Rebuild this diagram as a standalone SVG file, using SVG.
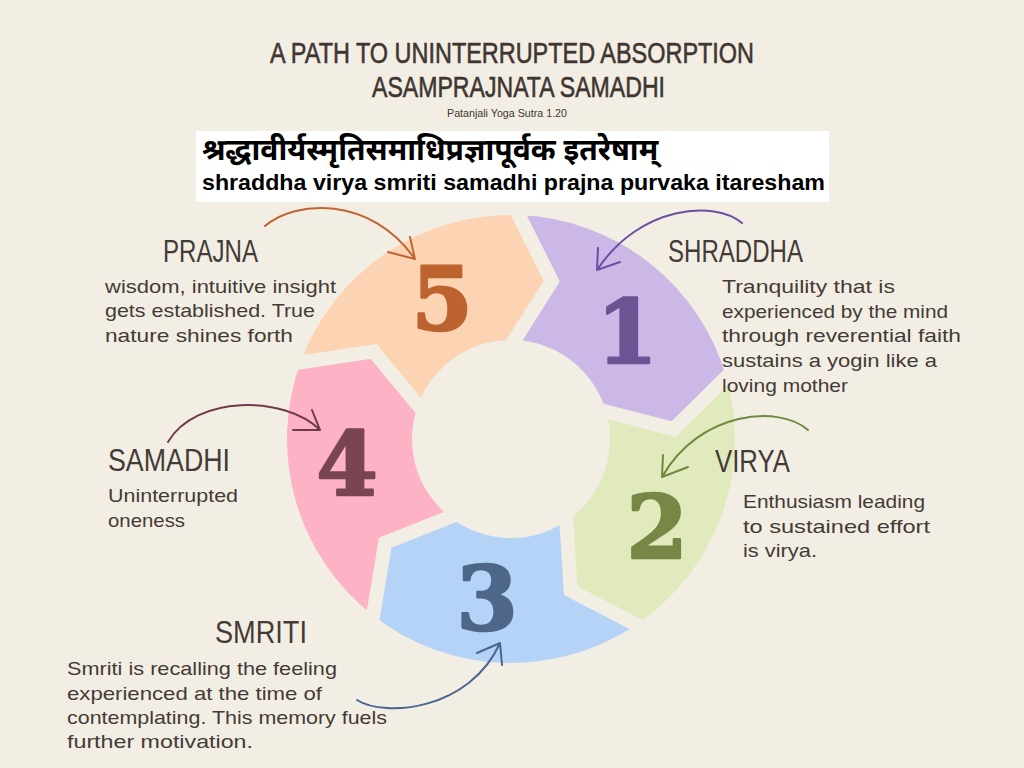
<svg xmlns="http://www.w3.org/2000/svg" width="1024" height="768" viewBox="0 0 1024 768">
<style>
.title{font-family:"Liberation Sans","DejaVu Sans",sans-serif;font-size:30px;fill:#3f3632;stroke:#3f3632;stroke-width:0.6;}
.sub{font-family:"Liberation Sans",sans-serif;font-size:11px;fill:#3f3632;}
.dev{font-family:"Noto Sans Devanagari","Noto Sans","DejaVu Sans",sans-serif;font-size:30px;font-weight:bold;fill:#000;}
.tr{font-family:"Liberation Sans",Arial,sans-serif;font-size:22px;font-weight:bold;fill:#000;}
.head{font-family:"Liberation Sans",sans-serif;font-size:32px;fill:#433b37;}
.body{font-family:"Liberation Sans",sans-serif;font-size:19px;fill:#433b37;}
.num{font-family:"DejaVu Serif","Liberation Serif",serif;font-weight:bold;font-size:88px;text-anchor:middle;stroke-width:2.5;stroke-linejoin:round;}
.arrow{fill:none;stroke-width:2;stroke-linecap:round;stroke-linejoin:round;}
</style>
<defs>
<mask id="gaps" maskUnits="userSpaceOnUse" x="0" y="0" width="1024" height="768">
<rect x="0" y="0" width="1024" height="768" fill="#fff"/>
<g fill="none" stroke="#000" stroke-width="14" stroke-linejoin="miter">
<polyline points="505.6,188.7 551.8,281.2 492.1,375.4"/>
<polyline points="747.3,356.6 673.7,429.1 565.7,401.3"/>
<polyline points="662.5,638.3 570.7,590.7 563.8,479.3"/>
<polyline points="368.3,644.6 385.2,542.7 488.9,501.6"/>
<polyline points="271.3,366.8 373.5,351.4 444.7,437.3"/>
</g>
</mask>
</defs>
<rect x="0" y="0" width="1024" height="768" fill="#F3EEE4"/>

<g id="title">
<text class="title" x="270" y="63" textLength="484" lengthAdjust="spacingAndGlyphs">A PATH TO UNINTERRUPTED ABSORPTION</text>
<text class="title" x="372" y="97" textLength="293" lengthAdjust="spacingAndGlyphs">ASAMPRAJNATA SAMADHI</text>
<text class="sub" x="447" y="117" textLength="120" lengthAdjust="spacingAndGlyphs">Patanjali Yoga Sutra 1.20</text>
</g>

<g id="sutra">
<rect x="196" y="131" width="633" height="71" fill="#ffffff"/>
<text class="dev" x="202" y="160">श्रद्धावीर्यस्मृतिसमाधिप्रज्ञापूर्वक इतरेषाम्</text>
<text class="tr" x="202" y="190" textLength="623" lengthAdjust="spacingAndGlyphs">shraddha virya smriti samadhi prajna purvaka itaresham</text>
</g>

<g id="step1-shraddha">
<path mask="url(#gaps)" fill="#CBB8E6" d="M518.8,215.1 A224,224 0 0 1 726.3,377.3 L673.7,429.1 L606.2,411.7 A99,99 0 0 0 514.5,340.1 L551.8,281.2 Z"/>
<text class="num" x="627" y="363" fill="#6B5494" stroke="#6B5494">1</text>
</g>
<g id="step2-virya">
<path mask="url(#gaps)" fill="#E1EABD" d="M726.3,377.3 A224,224 0 0 1 636.3,624.7 L570.7,590.7 L566.4,521.1 A99,99 0 0 0 606.2,411.7 L673.7,429.1 Z"/>
<text class="num" x="657" y="558" fill="#778745" stroke="#778745">2</text>
</g>
<g id="step3-smriti">
<path mask="url(#gaps)" fill="#B5D2F7" d="M636.3,624.7 A224,224 0 0 1 373.1,615.5 L385.2,542.7 L450,517 A99,99 0 0 0 566.4,521.1 L570.7,590.7 Z"/>
<text class="num" x="487" y="630" fill="#4E6689" stroke="#4E6689">3</text>
</g>
<g id="step4-samadhi">
<path mask="url(#gaps)" fill="#FDB2C5" d="M373.1,615.5 A224,224 0 0 1 300.5,362.4 L373.5,351.4 L418,405.1 A99,99 0 0 0 450,517 L385.2,542.7 Z"/>
<text class="num" x="347" y="495" fill="#7A4553" stroke="#7A4553">4</text>
</g>
<g id="step5-prajna">
<path mask="url(#gaps)" fill="#FDD4B3" d="M300.5,362.4 A224,224 0 0 1 518.8,215.1 L551.8,281.2 L514.5,340.1 A99,99 0 0 0 418,405.1 L373.5,351.4 Z"/>
<text class="num" x="442" y="330" fill="#BD6330" stroke="#BD6330">5</text>
</g>

<g id="label-prajna">
<text class="head" x="163" y="262" textLength="95" lengthAdjust="spacingAndGlyphs">PRAJNA</text>
<text class="body" x="105" y="293" textLength="231" lengthAdjust="spacingAndGlyphs">wisdom, intuitive insight</text>
<text class="body" x="105" y="317" textLength="210" lengthAdjust="spacingAndGlyphs">gets established. True</text>
<text class="body" x="105" y="342" textLength="188" lengthAdjust="spacingAndGlyphs">nature shines forth</text>
</g>
<g id="label-shraddha">
<text class="head" x="668" y="262" textLength="135" lengthAdjust="spacingAndGlyphs">SHRADDHA</text>
<text class="body" x="722" y="293" textLength="173" lengthAdjust="spacingAndGlyphs">Tranquility that is</text>
<text class="body" x="722" y="318" textLength="226" lengthAdjust="spacingAndGlyphs">experienced by the mind</text>
<text class="body" x="722" y="342" textLength="239" lengthAdjust="spacingAndGlyphs">through reverential faith</text>
<text class="body" x="722" y="367" textLength="215" lengthAdjust="spacingAndGlyphs">sustains a yogin like a</text>
<text class="body" x="722" y="392" textLength="126" lengthAdjust="spacingAndGlyphs">loving mother</text>
</g>
<g id="label-virya">
<text class="head" x="715" y="472" textLength="75" lengthAdjust="spacingAndGlyphs">VIRYA</text>
<text class="body" x="743" y="508" textLength="182" lengthAdjust="spacingAndGlyphs">Enthusiasm leading</text>
<text class="body" x="743" y="533" textLength="187" lengthAdjust="spacingAndGlyphs">to sustained effort</text>
<text class="body" x="743" y="557" textLength="74" lengthAdjust="spacingAndGlyphs">is virya.</text>
</g>
<g id="label-samadhi">
<text class="head" x="108" y="471" textLength="122" lengthAdjust="spacingAndGlyphs">SAMADHI</text>
<text class="body" x="108" y="502" textLength="130" lengthAdjust="spacingAndGlyphs">Uninterrupted</text>
<text class="body" x="108" y="527" textLength="77" lengthAdjust="spacingAndGlyphs">oneness</text>
</g>
<g id="label-smriti">
<text class="head" x="215" y="643" textLength="92" lengthAdjust="spacingAndGlyphs">SMRITI</text>
<text class="body" x="67" y="675" textLength="270" lengthAdjust="spacingAndGlyphs">Smriti is recalling the feeling</text>
<text class="body" x="67" y="700" textLength="255" lengthAdjust="spacingAndGlyphs">experienced at the time of</text>
<text class="body" x="67" y="724" textLength="320" lengthAdjust="spacingAndGlyphs">contemplating. This memory fuels</text>
<text class="body" x="67" y="748" textLength="186" lengthAdjust="spacingAndGlyphs">further motivation.</text>
</g>

<g id="connectors">
<path class="arrow" stroke="#C0652F" d="M265,226 C295,200 370,195 415,259 M410,237 L415,259 L388,252"/>
<path class="arrow" stroke="#6A4FA3" d="M742,223 C715,200 640,205 597,270 M598,248 L597,270 L620,262"/>
<path class="arrow" stroke="#6E8B3D" d="M808,430 C780,405 700,410 662,477 M663,455 L662,477 L688,467"/>
<path class="arrow" stroke="#6E3B4A" d="M168,442 C195,395 285,395 320,430 M312,410 L320,430 L293,430"/>
<path class="arrow" stroke="#4A6590" d="M357,700 C385,718 470,710 500,643 M477,653 L500,643 L502,665"/>
</g>
</svg>
